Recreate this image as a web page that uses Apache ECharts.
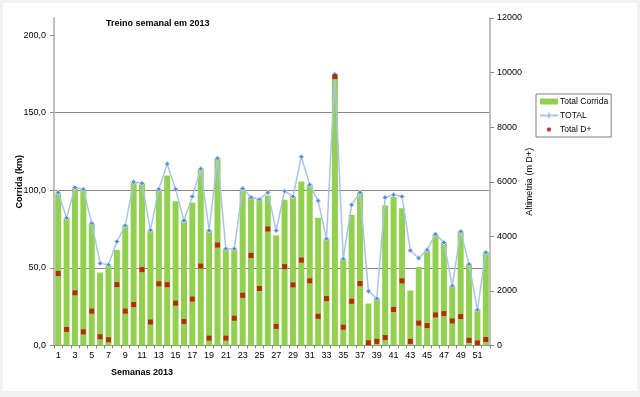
<!DOCTYPE html>
<html>
<head>
<meta charset="utf-8">
<script src="https://cdn.jsdelivr.net/npm/echarts@6/dist/echarts.min.js"></script>
<style>
  body { margin: 0; background: #f2f2f2; }
  #wrap { position: absolute; left: 3px; top: 3px; width: 634px; height: 388px; background: #fff; }
  #chart { position: absolute; left: 0; top: 0; width: 640px; height: 397px; }
</style>
</head>
<body>
<div id="wrap"></div>
<div id="chart"></div>
<script>
// semanas 1..52
const semanas = [];
for (let i = 1; i <= 52; i++) semanas.push(String(i));

// Total Corrida (km)
const corrida = [98, 82, 101.5, 100.5, 78.8, 47, 51.5, 61.6, 77, 105.3,
  104.6, 74, 100.5, 109.5, 93, 80.5, 92, 113.8, 74, 120.6,
  62.3, 62.3, 101, 95.6, 94, 96.4, 70.9, 93.9, 96, 105.7,
  103.5, 82.3, 68.8, 174.5, 55.8, 84, 98.5, 27, 30.3, 90.2,
  95.6, 88.5, 35.4, 50.5, 61, 71.6, 66.4, 38.4, 73.5, 52.4,
  23, 60];

// TOTAL (km)
const total = [98.5, 82.2, 101.8, 100.6, 78.8, 53, 52, 67, 77.3, 105.3,
  104.5, 74.3, 100.7, 117, 100.7, 80.5, 96, 113.8, 74.1, 120.6,
  62.3, 62.3, 101.2, 95.5, 94.1, 98.6, 74.1, 99.4, 96, 121.6,
  103.5, 93.2, 68.8, 174.8, 55.8, 90.6, 98.6, 35, 30.3, 95.4,
  97.1, 96, 61.2, 56.3, 61.6, 71.7, 66.4, 38.4, 73.5, 52.4,
  23, 60];

// Total D+ (m)
const dplus = [2640, 590, 1930, 500, 1260, 320, 210, 2230, 1260, 1500,
  2780, 860, 2260, 2230, 1550, 880, 1700, 2910, 270, 3680,
  270, 1000, 1840, 3300, 2090, 4270, 700, 2890, 2220, 3130,
  2370, 1070, 1720, 9850, 670, 1620, 2270, 100, 150, 290,
  1320, 2370, 150, 820, 730, 1120, 1170, 900, 1060, 190,
  95, 220];

const kmTicks = [0, 50, 100, 150, 200];

const font = 'Liberation Sans, Arial, sans-serif';
const myChart = echarts.init(document.getElementById('chart'));

const option = {
  animation: false,
  textStyle: { fontFamily: font },
  title: {
    text: 'Treino semanal em 2013',
    left: 106,
    top: 19,
    padding: 0,
    textStyle: { fontSize: 9, fontWeight: 'bold', color: '#000', fontFamily: font },
  },
  graphic: [{
    type: 'text',
    left: 111,
    top: 368,
    style: { text: 'Semanas 2013', fontSize: 9, fontWeight: 'bold', fill: '#000', fontFamily: font },
  }],
  legend: {
    orient: 'vertical',
    left: 536,
    top: 94,
    padding: [3, 3, 3, 3],
    itemGap: 5,
    itemWidth: 18,
    itemHeight: 6,
    borderColor: '#808080',
    borderWidth: 1,
    textStyle: { fontSize: 8.5, color: '#000', fontFamily: font, padding: [0, 0, 0, -3] },
    data: [
      { name: 'Total Corrida', icon: 'rect' },
      { name: 'TOTAL' },
      // quadradinho pequeno no meio da caixa do ícone
      { name: 'Total D+', icon: 'path://M0,0M18,8M6.5,1.5h5v5h-5z', itemStyle: { color: '#c00000' } },
    ],
  },
  grid: { left: 54, right: 150, top: 18, bottom: 51.5 },
  xAxis: {
    type: 'category',
    data: semanas,
    axisLine: { lineStyle: { color: '#868686' } },
    axisTick: { show: true, interval: 0, length: 3, lineStyle: { color: '#868686' } },
    axisLabel: { interval: 1, fontSize: 9, color: '#000', margin: 6 },
  },
  yAxis: [
    {
      type: 'value',
      min: 0,
      max: 211,
      interval: 50,
      name: 'Corrida (km)',
      nameLocation: 'middle',
      nameRotate: 90,
      nameGap: 30,
      nameMoveOverlap: false,
      nameTextStyle: { fontSize: 9, fontWeight: 'bold', color: '#000' },
      axisLine: { show: true, lineStyle: { color: '#c0c0c0', width: 2 } },
      axisTick: { show: true, length: 4, customValues: kmTicks, lineStyle: { color: '#868686' } },
      axisLabel: {
        fontSize: 9, color: '#000', margin: 8,
        customValues: kmTicks,
        formatter: v => v.toFixed(1).replace('.', ','),
      },
      splitLine: { show: true, showMaxLine: false, lineStyle: { color: '#868686', width: 1 } },
    },
    {
      type: 'value',
      min: 0,
      max: 12000,
      interval: 2000,
      name: 'Altimetria (m D+)',
      nameLocation: 'middle',
      nameRotate: 90,
      nameGap: 35,
      nameMoveOverlap: false,
      nameTextStyle: { fontSize: 9, color: '#000' },
      axisLine: { show: true, lineStyle: { color: '#c0c0c0', width: 2 } },
      axisTick: { show: true, length: 4, lineStyle: { color: '#868686' } },
      axisLabel: { fontSize: 9, color: '#000', margin: 7, formatter: v => String(v) },
      splitLine: { show: false },
    },
  ],
  series: [
    {
      name: 'Total Corrida',
      type: 'bar',
      data: corrida,
      barWidth: 6,
      itemStyle: { color: '#92d050' },
      z: 2,
    },
    {
      name: 'TOTAL',
      type: 'line',
      data: total,
      symbol: 'diamond',
      symbolSize: 5,
      showAllSymbol: true,
      lineStyle: { color: '#a9c4e4', width: 1.5 },
      itemStyle: { color: '#4f8fd8', borderColor: '#c6dcf3', borderWidth: 1 },
      z: 3,
    },
    {
      name: 'Total D+',
      type: 'scatter',
      yAxisIndex: 1,
      data: dplus,
      symbol: 'rect',
      symbolSize: 5,
      itemStyle: { color: '#c00000' },
      z: 4,
    },
  ],
};

myChart.setOption(option);
</script>
</body>
</html>
